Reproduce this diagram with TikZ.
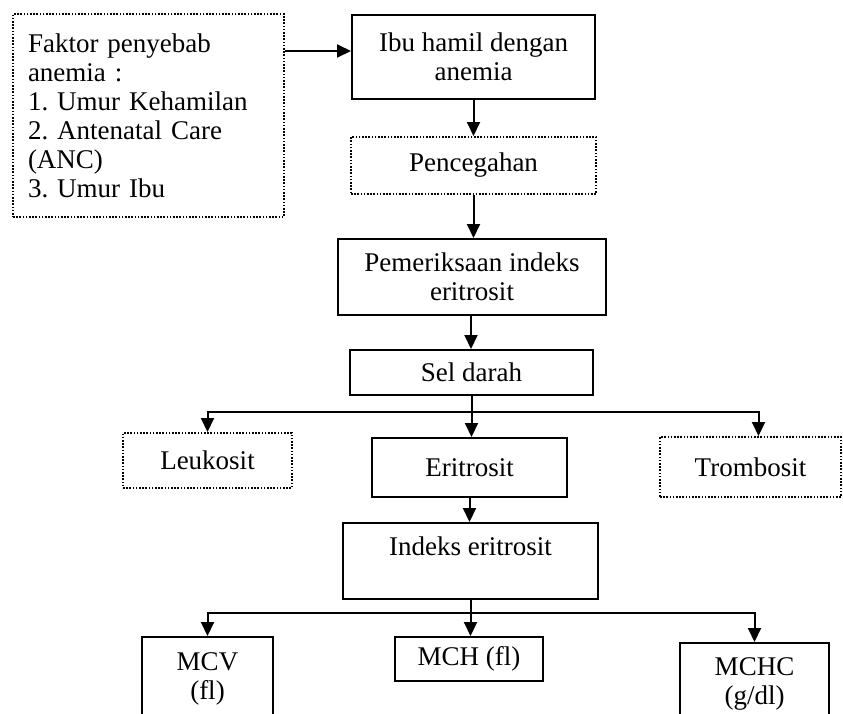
\documentclass[tikz,border=0pt]{standalone}
\usepackage{fontspec}
\setmainfont{Liberation Serif}
\usetikzlibrary{arrows.meta,calc}

\begin{document}
\begin{tikzpicture}[
		x=1pt, y=-1pt,
		font=\fontsize{27}{29}\selectfont\frenchspacing,
		box/.style={draw, line width=2pt, inner sep=0pt, align=center},
		dotbox/.style={box, dash pattern=on 1.6pt off 1.6pt},
		arrow/.style={line width=2pt, -{Triangle[length=14pt,width=13pt]}},
		link/.style={line width=2pt}
		]
		% Page frame, lower boxes run off the bottom edge
		\useasboundingbox (0,0) rectangle (843,713);
		\clip (0,0) rectangle (843,713);
		
		% Causes and main chain
		\node[dotbox, minimum width=271pt, minimum height=203pt, text width=241pt, align=left] (faktor) at (148.5,115.5)
		{Faktor penyebab\\ anemia :\\ 1. Umur Kehamilan\\ 2. Antenatal Care\\ (ANC)\\ 3. Umur Ibu};
		\node[box, minimum width=243pt, minimum height=84pt] (ibu) at (473.5,57) {Ibu hamil dengan\\ anemia};
		\node[dotbox, minimum width=245pt, minimum height=57pt] (cegah) at (473.5,165.5) {Pencegahan};
		\node[box, minimum width=268pt, minimum height=76pt] (periksa) at (472,277) {Pemeriksaan indeks\\ eritrosit};
		\node[box, minimum width=243pt, minimum height=45pt] (sel) at (471.5,372.5) {Sel darah};
		
		% Blood cells
		\node[dotbox, minimum width=169pt, minimum height=55pt] (leuko) at (207.5,460.5) {Leukosit};
		\node[box, minimum width=195pt, minimum height=59pt] (eritro) at (469.5,467.5) {Eritrosit};
		\node[dotbox, minimum width=181pt, minimum height=60pt] (trombo) at (750.5,467) {Trombosit};
		
		% Indices
		\node[box, minimum width=255pt, minimum height=76pt] (indeks) at (470.5,561) {Indeks eritrosit\\ ~};
		\node[box, minimum width=131pt, minimum height=83pt] (mcv) at (207.5,678.5) {MCV\\ (fl)};
		\node[box, minimum width=148pt, minimum height=44pt] (mch) at (469,659) {MCH (fl)};
		\node[box, minimum width=149pt, minimum height=81pt] (mchc) at (754.5,683.5) {MCHC\\ (g/dl)};
		
		% Arrows
		\draw[arrow] ($(faktor.east |- ibu.west)+(0,-6)$) -- ($(ibu.west)+(0,-6)$);
		\draw[arrow] (ibu.south) -- (ibu.south |- cegah.north);
		\draw[arrow] (cegah.south) -- (cegah.south |- periksa.north);
		\draw[arrow] ($(periksa.south)+(-1,0)$) -- ($(periksa.south |- sel.north)+(-1,0)$);
		
		\coordinate (bus1) at ($(sel.south)+(0,16)$);
		\draw[link] (sel.south) -- (bus1);
		\draw[arrow] (bus1) -| (leuko.north);
		\draw[arrow] (bus1) -- (bus1 |- eritro.north);
		\draw[arrow] (bus1) -| ($(trombo.north)+(8,0)$);
		
		\draw[arrow] (eritro.south) -- (eritro.south |- indeks.north);
		
		\coordinate (bus2) at ($(indeks.south)+(0,13)$);
		\draw[link] (indeks.south) -- (bus2);
		\draw[arrow] (bus2) -| (mcv.north);
		\draw[arrow] (bus2) -- (bus2 |- mch.north);
		\draw[arrow] (bus2) -| (mchc.north);
\end{tikzpicture}
\end{document}
